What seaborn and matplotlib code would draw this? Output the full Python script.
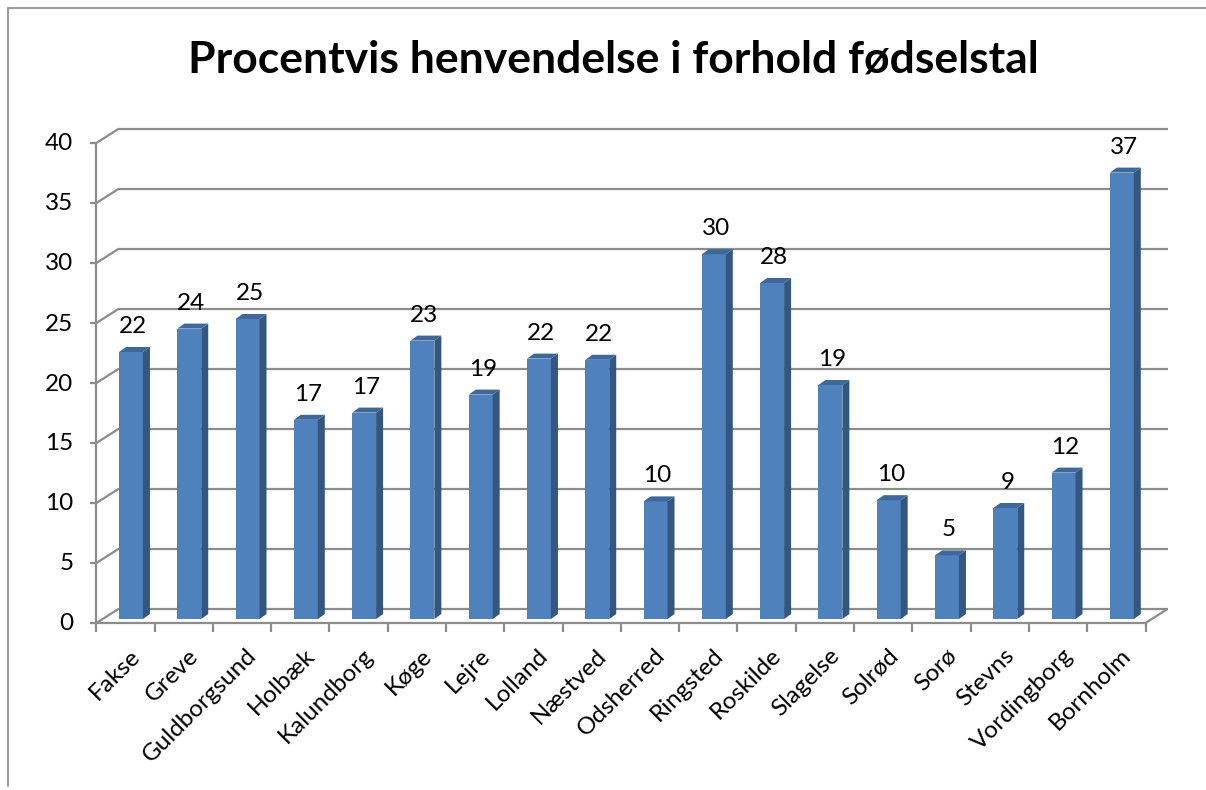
import matplotlib
matplotlib.use("Agg")
import matplotlib.pyplot as plt
import seaborn as sns
from matplotlib.lines import Line2D
from matplotlib.patches import Polygon

# Data
kommuner = ["Fakse", "Greve", "Guldborgsund", "Holbæk", "Kalundborg", "Køge",
            "Lejre", "Lolland", "Næstved", "Odsherred", "Ringsted", "Roskilde",
            "Slagelse", "Solrød", "Sorø", "Stevns", "Vordingborg", "Bornholm"]
procent = [22.25, 24.2, 25.0, 16.6, 17.2, 23.2, 18.7, 21.7, 21.6, 9.8,
           30.4, 28.0, 19.5, 9.9, 5.3, 9.25, 12.2, 37.2]
etiketter = [22, 24, 25, 17, 17, 23, 19, 22, 22, 10, 30, 28, 19, 10, 5, 9, 12, 37]
yticks = [0, 5, 10, 15, 20, 25, 30, 35, 40]

sns.set_style("white")
plt.rcParams['font.family'] = ['Lato', 'DejaVu Sans']
plt.rcParams['text.color'] = 'black'

W, H = 1206, 790
fig = plt.figure(figsize=(W / 100, H / 100), dpi=100)
ax = fig.add_axes([101.85 / W, (H - 619) / H, (1151 - 101.85) / W, 480 / H])

sns.barplot(x=kommuner, y=procent, color='#4f81bd', width=0.41, saturation=1,
            ax=ax, zorder=3, edgecolor='none')
n = len(kommuner)
ax.set_xlim(-0.5, n - 0.5)
ax.set_ylim(0, 40)
ax.axis('off')

# pixel offsets for the fake 3D look
FRONT = (-5.5, -4)
BACK = (16.5, 10)
DEPTH = (7, 5)
grid = '#8c8c8c'
fs = 17.5


def px(x, y, dx=0, dy=0):
    p = ax.transData.transform((x, y))
    return ax.transData.inverted().transform((p[0] + dx, p[1] + dy))


def line(a, b, **kw):
    ax.plot([a[0], b[0]], [a[1], b[1]], color=grid, lw=1.6, clip_on=False,
            solid_capstyle='butt', **kw)


# back wall grid + diagonals + y ticks
for v in yticks:
    a = px(-0.5, v, *BACK)
    b = px(n - 0.5, v, *BACK)
    c = px(-0.5, v, *FRONT)
    line(a, b, zorder=1)
    line(c, a, zorder=1)
    line(px(-0.5, v, FRONT[0] - 6, FRONT[1]), c, zorder=1)
    t = px(-0.5, v, FRONT[0] - 23, FRONT[1] - 1)
    ax.text(t[0], t[1], str(v), ha='right', va='center', fontsize=fs)

# front axis and floor
line(px(-0.5, 0, *FRONT), px(-0.5, 40, *FRONT), zorder=2)
line(px(-0.5, 0, *FRONT), px(n - 0.5, 0, *FRONT), zorder=2)
line(px(n - 0.5, 0, *FRONT), px(n - 0.5, 0, *BACK), zorder=2)
for i in range(n + 1):
    line(px(i - 0.5, 0, *FRONT), px(i - 0.5, 0, FRONT[0], FRONT[1] - 9), zorder=2)

# category labels
for i, name in enumerate(kommuner):
    p = px(i, 0, FRONT[0] + 4, FRONT[1] - 22)
    ax.text(p[0], p[1], name, rotation=45, ha='right', va='top',
            rotation_mode='anchor', fontsize=fs)

# side and top faces of the bars, plus value labels
for patch, lab in zip(ax.patches, etiketter):
    x0 = patch.get_x()
    x1 = x0 + patch.get_width()
    h = patch.get_height()
    side = Polygon([(x1, 0), (x1, h), px(x1, h, *DEPTH), px(x1, 0, *DEPTH)],
                   closed=True, fc='#34577f', ec='none', zorder=3)
    top = Polygon([(x0, h), (x1, h), px(x1, h, *DEPTH), px(x0, h, *DEPTH)],
                  closed=True, fc='#3d6899', ec='none', zorder=3)
    ax.add_patch(side)
    ax.add_patch(top)
    p = px((x0 + x1) / 2, h, 2, 19)
    ax.text(p[0], p[1], str(lab), ha='center', va='baseline', fontsize=fs)

fig.text(613 / W, 1 - 73 / H, "Procentvis henvendelse i forhold fødselstal",
         ha='center', va='baseline', fontsize=32, fontweight='bold')

# outer chart frame
fig.add_artist(Line2D([8 / W, 8 / W], [1 - 8 / H, 1 - 786 / H],
                      transform=fig.transFigure, color='#8a8a8a', lw=1.2))
fig.add_artist(Line2D([8 / W, 1], [1 - 8 / H, 1 - 8 / H],
                      transform=fig.transFigure, color='#8a8a8a', lw=1.2))

fig.savefig('out.png', dpi=100)
